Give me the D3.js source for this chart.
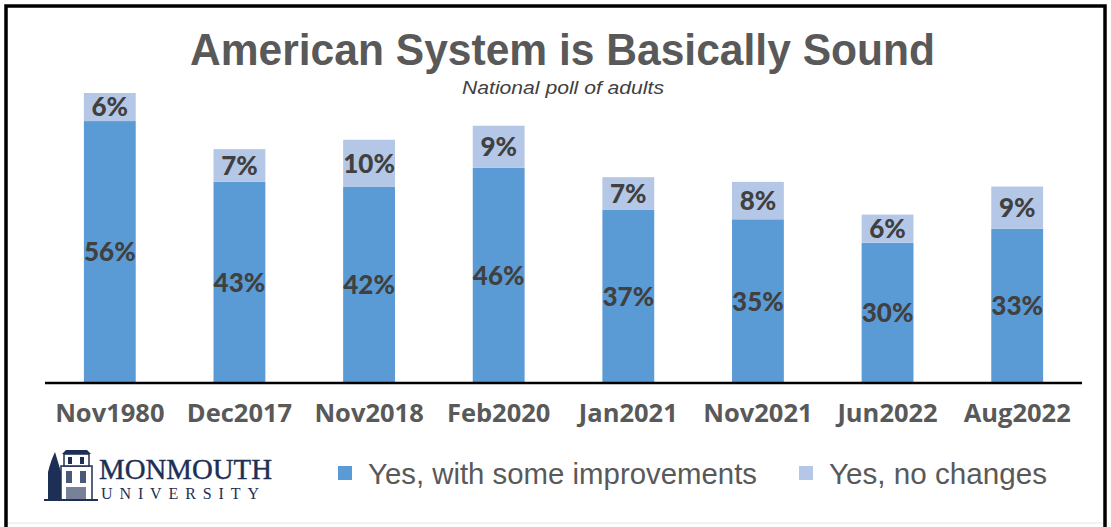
<!DOCTYPE html>
<html>
<head>
<meta charset="utf-8">
<script src="https://cdn.jsdelivr.net/npm/d3@7"></script>
<style>
  body { margin: 0; background: #fff; }
  svg { display: block; }
</style>
</head>
<body>
<svg id="chart"></svg>
<script>
// poll data
const categories = ['Nov1980', 'Dec2017', 'Nov2018', 'Feb2020', 'Jan2021', 'Nov2021', 'Jun2022', 'Aug2022'];
const improvements = [56, 43, 42, 46, 37, 35, 30, 33];
const noChanges = [6, 7, 10, 9, 7, 8, 6, 9];
const seriesNames = ['Yes, with some improvements', 'Yes, no changes'];
const colors = ['#5B9BD5', '#B4C7E7'];

const W = 1111, H = 527;
const svg = d3.select('#chart').attr('width', W).attr('height', H);

// frame
svg.append('rect').attr('x', 6).attr('y', 6).attr('width', 1099).attr('height', 540)
    .attr('fill', 'none').attr('stroke', '#000').attr('stroke-width', 3.5);
svg.append('line').attr('x1', 8).attr('x2', 1103).attr('y1', 523).attr('y2', 523)
    .attr('stroke', '#e6e6e6').attr('stroke-width', 1);

// title (reference font is a condensed Arial, so squeeze to its width)
svg.append('text').attr('x', 190).attr('y', 65)
    .attr('font-family', 'Liberation Sans, Arial, sans-serif').attr('font-weight', 'bold')
    .attr('font-size', 45).attr('fill', '#595959')
    .attr('textLength', 745).attr('lengthAdjust', 'spacingAndGlyphs')
    .text('American System is Basically Sound');
svg.append('text').attr('x', 462).attr('y', 94)
    .attr('font-family', 'Liberation Sans, Arial, sans-serif').attr('font-style', 'italic')
    .attr('font-size', 19).attr('fill', '#404040')
    .attr('textLength', 202).attr('lengthAdjust', 'spacingAndGlyphs')
    .text('National poll of adults');

// scales
const x = d3.scaleBand().domain(categories).range([45, 1082]).paddingInner(0.6).paddingOuter(0.3);
const y = d3.scaleLinear().domain([0, 62]).range([383, 93]);

const rows = categories.map((c, i) => ({ cat: c, a: improvements[i], b: noChanges[i] }));

const g = svg.append('g');
rows.forEach(r => {
    const bx = x(r.cat), bw = x.bandwidth();
    g.append('rect').attr('x', bx).attr('width', bw)
        .attr('y', y(r.a)).attr('height', y(0) - y(r.a)).attr('fill', colors[0]);
    g.append('rect').attr('x', bx).attr('width', bw)
        .attr('y', y(r.a + r.b)).attr('height', y(r.a) - y(r.a + r.b)).attr('fill', colors[1]);
    // labels
    g.append('text').attr('x', bx + bw / 2).attr('y', (y(0) + y(r.a)) / 2).attr('dy', '0.36em')
        .attr('text-anchor', 'middle').attr('font-family', 'Lato, sans-serif').attr('font-weight', 900)
        .attr('font-size', 26).attr('fill', '#404040').text(r.a + '%');
    g.append('text').attr('x', bx + bw / 2).attr('y', (y(r.a) + y(r.a + r.b)) / 2).attr('dy', '0.36em')
        .attr('text-anchor', 'middle').attr('font-family', 'Lato, sans-serif').attr('font-weight', 900)
        .attr('font-size', 26).attr('fill', '#404040').text(r.b + '%');
});

// x axis
const xAxis = svg.append('g').attr('transform', `translate(0,${y(0)})`)
    .call(d3.axisBottom(x).tickSize(0).tickPadding(21));
xAxis.select('.domain').attr('stroke', '#000').attr('stroke-width', 2.5).attr('d', 'M45,0H1082');
xAxis.selectAll('text').attr('font-family', 'Open Sans, sans-serif').attr('font-weight', 'bold')
    .attr('font-size', 25.5).attr('fill', '#595959');

// legend
const leg = svg.append('g').attr('font-family', 'Liberation Sans, Arial, sans-serif');
const legX = [338, 799];
const legW = [389, 218];
seriesNames.forEach((s, i) => {
    leg.append('rect').attr('x', legX[i]).attr('y', 466).attr('width', 14).attr('height', 14).attr('fill', colors[i]);
    leg.append('text').attr('x', legX[i] + 30).attr('y', 484).attr('font-size', 30)
        .attr('fill', '#595959').attr('textLength', legW[i]).attr('lengthAdjust', 'spacingAndGlyphs').text(s);
});

// logo
const logo = svg.append('g');
const navy = '#1d2f54';
// tower icon
logo.append('path').attr('d', 'M48,500 L48,472 Q51,460 55,452 Q58,462 61,472 L61,500 Z').attr('fill', navy);
logo.append('rect').attr('x', 61).attr('y', 466).attr('width', 31).attr('height', 34).attr('fill', '#fff').attr('stroke', navy).attr('stroke-width', 1.5);
logo.append('rect').attr('x', 64).attr('y', 454).attr('width', 25).attr('height', 12).attr('fill', '#fff').attr('stroke', navy).attr('stroke-width', 1.5);
logo.append('path').attr('d', 'M62,454 L66,450 L87,450 L91,454 Z').attr('fill', navy);
logo.append('rect').attr('x', 66).attr('y', 471).attr('width', 6).attr('height', 12).attr('fill', navy).attr('opacity', 0.8);
logo.append('rect').attr('x', 80).attr('y', 471).attr('width', 6).attr('height', 12).attr('fill', navy).attr('opacity', 0.8);
logo.append('rect').attr('x', 68).attr('y', 457).attr('width', 4).attr('height', 7).attr('fill', navy);
logo.append('rect').attr('x', 80).attr('y', 457).attr('width', 4).attr('height', 7).attr('fill', navy);
logo.append('rect').attr('x', 66).attr('y', 487).attr('width', 20).attr('height', 13).attr('fill', navy).attr('opacity', 0.6);
logo.append('line').attr('x1', 44).attr('x2', 98).attr('y1', 500).attr('y2', 500).attr('stroke', navy).attr('stroke-width', 2);
logo.append('text').attr('x', 99).attr('y', 479).attr('font-family', 'Liberation Serif, serif')
    .attr('font-size', 30).attr('fill', navy).attr('stroke', navy).attr('stroke-width', 0.4)
    .attr('textLength', 173).attr('lengthAdjust', 'spacingAndGlyphs').text('MONMOUTH');
logo.append('text').attr('x', 101).attr('y', 499).attr('font-family', 'Liberation Serif, serif')
    .attr('font-size', 16).attr('fill', navy).attr('textLength', 158).text('UNIVERSITY');
</script>
</body>
</html>
